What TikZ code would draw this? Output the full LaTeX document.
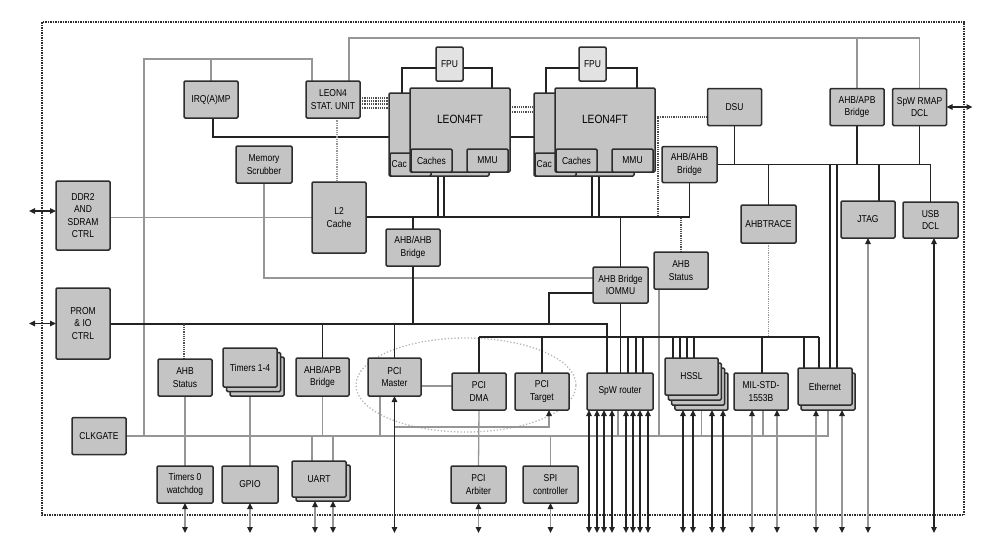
\documentclass[tikz,border=0pt]{standalone}
\usepackage{fontspec}
\newfontfamily\diagfont{Liberation Sans}[FakeStretch=0.85]
\usetikzlibrary{arrows.meta,calc}
\definecolor{BoxGray}{RGB}{196,196,196}
\definecolor{FpuGray}{RGB}{226,226,226}
\definecolor{EdgeGray}{RGB}{45,45,45}
\definecolor{WireGray}{RGB}{150,150,150}
\definecolor{WireBlack}{RGB}{35,35,35}
\pgfdeclarelayer{bg}
\pgfsetlayers{bg,main}
\tikzset{
  blk/.style={draw=EdgeGray, fill=BoxGray, line width=1.5pt, rounded corners=1.2pt,
              inner sep=0pt, outer sep=0pt, align=center,
              font=\diagfont\fontsize{10}{12.5}\selectfont},
  std/.style={blk, minimum width=54pt, minimum height=37pt},
  wire/.style={draw=WireBlack, line width=1.3pt},
  gwire/.style={draw=WireGray, line width=1.3pt},
  bus/.style={draw=WireBlack, line width=2pt},
  dotw/.style={draw=WireBlack!80, line width=1.2pt, densely dotted},
  gdot/.style={draw=WireGray, line width=1.3pt, densely dotted},
  io/.style={{Triangle[length=6pt,width=5.5pt,color=WireBlack]}-{Triangle[length=6pt,width=5.5pt,color=WireBlack]}, line width=1.3pt},
  gio/.style={io, draw=WireGray},
  bio/.style={io, draw=WireBlack},
}
\begin{document}
\begin{tikzpicture}[x=1pt,y=-1pt]
\useasboundingbox (0,0) rectangle (994,558);

% top row
\node[std] (irq) at (211,99.5) {IRQ(A)MP};
\node[std] (stat) at (333,99.5) {LEON4\\STAT. UNIT};
\node[std] (dsu) at (734.5,107) {DSU};
\node[std] (apbtop) at (857,107) {AHB/APB\\Bridge};
\node[std] (rmap) at (919.5,107) {SpW RMAP\\DCL};

% processors
\node[blk, minimum width=100pt, minimum height=83pt] (cpu1b) at (439,134.5) {};
\node[blk, minimum width=41pt, minimum height=23pt] (cch1b) at (410.5,164.5) {};
\node[font=\diagfont\fontsize{10}{12}\selectfont, anchor=west, inner sep=0pt] (cch1bt) at (391.5,164.5) {Cac};
\node[blk, minimum width=100pt, minimum height=84pt] (cpu1) at (460,130) {};
\node[font=\diagfont\fontsize{12}{14}\selectfont] (cpu1t) at (460,119) {LEON4FT};
\node[blk, minimum width=41pt, minimum height=23pt] (cch1) at (431.5,160.5) {Caches};
\node[blk, minimum width=41pt, minimum height=23pt] (mmu1) at (487.5,160.5) {MMU};
\node[blk, fill=FpuGray, minimum width=27pt, minimum height=34pt] (fpu1) at (449.5,64) {FPU};

\node[blk, minimum width=100pt, minimum height=83pt] (cpu2b) at (584,134.5) {};
\node[blk, minimum width=41pt, minimum height=23pt] (cch2b) at (555.5,164.5) {};
\node[font=\diagfont\fontsize{10}{12}\selectfont, anchor=west, inner sep=0pt] (cch2bt) at (536.5,164.5) {Cac};
\node[blk, minimum width=100pt, minimum height=84pt] (cpu2) at (605,130) {};
\node[font=\diagfont\fontsize{12}{14}\selectfont] (cpu2t) at (605,119) {LEON4FT};
\node[blk, minimum width=41pt, minimum height=23pt] (cch2) at (576.5,160.5) {Caches};
\node[blk, minimum width=41pt, minimum height=23pt] (mmu2) at (632.5,160.5) {MMU};
\node[blk, fill=FpuGray, minimum width=27pt, minimum height=34pt] (fpu2) at (592.5,64) {FPU};

% memory side
\node[blk, minimum width=54pt, minimum height=69pt] (ddr) at (83,215.5) {DDR2\\AND\\SDRAM\\CTRL};
\node[blk, minimum width=54pt, minimum height=71pt] (prom) at (83,323.5) {PROM\\\& IO\\CTRL};
\node[blk, minimum width=56pt, minimum height=37pt] (scrub) at (264,164.5) {Memory\\Scrubber};
\node[blk, minimum width=54pt, minimum height=71pt] (l2) at (339,217.5) {L2\\Cache};
\node[std] (ahbm) at (413,247.5) {AHB/AHB\\Bridge};
\node[blk, minimum width=55pt, minimum height=36pt] (ahbr) at (689.5,164.5) {AHB/AHB\\Bridge};
\node[blk, minimum width=55pt, minimum height=38pt] (ahbtrace) at (768.5,224) {AHBTRACE};
\node[std] (jtag) at (868,219.5) {JTAG};
\node[blk, minimum width=55pt, minimum height=36pt] (usb) at (930.5,220) {USB\\DCL};
\node[blk, minimum width=55pt, minimum height=36pt] (iommu) at (620.5,285) {AHB Bridge\\IOMMU};
\node[std] (ahbst2) at (681,270.5) {AHB\\Status};

% peripherals
\node[std] (ahbst1) at (185,377.5) {AHB\\Status};
\node[blk, minimum width=54pt, minimum height=39pt] (timersc) at (257,376.5) {};
\node[blk, minimum width=54pt, minimum height=39pt] (timersb) at (253.5,372) {};
\node[blk, minimum width=54pt, minimum height=39pt] (timers) at (250,367.5) {Timers 1-4};
\node[blk, minimum width=53pt, minimum height=38pt] (apb2) at (322.5,377) {AHB/APB\\Bridge};
\node[blk, minimum width=53pt, minimum height=38pt] (pcim) at (394.5,377) {PCI\\Master};
\node[std] (pcid) at (479,391.5) {PCI\\DMA};
\node[std] (pcit) at (542,391.5) {PCI\\Target};
\node[blk, minimum width=66pt, minimum height=37pt] (spwr) at (620,391.5) {SpW router};
\node[blk, minimum width=53pt, minimum height=37pt] (hssld) at (701.4,391.5) {};
\node[blk, minimum width=53pt, minimum height=37pt] (hsslc) at (698.1,386.5) {};
\node[blk, minimum width=53pt, minimum height=37pt] (hsslb) at (694.8,381.5) {};
\node[blk, minimum width=53pt, minimum height=37pt] (hssl) at (691.5,376.5) {HSSL};
\node[std] (mil) at (761,391.5) {MIL-STD-\\1553B};
\node[std] (ethb) at (828,391.5) {};
\node[std] (eth) at (825,386.5) {Ethernet};
\node[std] (clk) at (99,436) {CLKGATE};
\node[blk, minimum width=56pt, minimum height=37pt] (tim0) at (185,484.5) {Timers 0\\watchdog};
\node[blk, minimum width=56pt, minimum height=37pt] (gpio) at (250,484.5) {GPIO};
\node[blk, minimum width=54pt, minimum height=36pt] (uartb) at (323,483) {};
\node[blk, minimum width=54pt, minimum height=36pt] (uart) at (319,479) {UART};
\node[blk, minimum width=55pt, minimum height=37pt] (pcia) at (478.5,484.5) {PCI\\Arbiter};
\node[blk, minimum width=55pt, minimum height=37pt] (spi) at (550.5,484.5) {SPI\\controller};

% bus levels
\coordinate (uby) at (0,164);
\coordinate (hby) at (0,217);
\coordinate (mby) at (0,323.5);
\coordinate (sby) at (0,337);
\coordinate (apby) at (0,436);

\begin{pgfonlayer}{bg}
  % chip outline
  \draw[EdgeGray, line width=1.5pt, densely dotted] (42,22) rectangle (964,515);
  \draw[WireGray!70, line width=1.3pt, dotted] (466,385) ellipse [x radius=110pt, y radius=47pt];

  % grey control lines
  \draw[gwire] ([xshift=16pt]stat.north) -- ++(0,-43) -| (rmap.north);
  \draw[gwire] (apbtop.north) -- ++(0,-50);
  \draw[gwire] ([xshift=-21pt]stat.north) -- ++(0,-22) coordinate (irqbar)
    -- (irqbar -| 144,0) |- (clk.east);
  \draw[gwire] (irq.north) -- (irq.north |- irqbar);
  \draw[gwire] (clk.east) -| ([xshift=3pt]eth.south);
  \draw[gwire] (l2.west) -- (l2.west -| ddr.east);
  \draw[gwire] (scrub.south) |- ([yshift=7pt]iommu.west);
  \draw[gwire] (ahbst1.south) -- (tim0.north);
  \draw[gwire] (timers.south) -- (gpio.north);
  \draw[gwire] (apb2.south) -- (apb2.south |- apby);
  \draw[gwire] ([xshift=-7pt]uart.north) -- ([xshift=-7pt]uart.north |- apby);
  \draw[gwire] ([xshift=14pt]uart.north) -- ([xshift=14pt]uart.north |- apby);
  \draw[gwire] ([xshift=-14.5pt]pcim.south) -- ([xshift=-14.5pt]pcim.south |- apby);
  \draw[gwire] ([yshift=-9pt]pcim.east) -- ([yshift=-9pt]pcim.east -| pcid.west);
  \draw[gwire, -{Triangle[length=6pt,width=5.5pt,color=WireBlack]}]
    (pcim.south |- 0,427) -| ([xshift=7pt]pcit.south);
  \draw[gwire] (pcid.south) -- (pcia.north);
  \draw[gwire] (spi.north) -- (spi.north |- apby);
  \draw[gwire] ([xshift=-2pt]spwr.south) -- ([xshift=-2pt]spwr.south |- apby);
  \draw[gwire] ([xshift=-22pt]ahbst2.south) -- ([xshift=-22pt]ahbst2.south |- apby);
  \draw[gwire] (hssld.south) -- (hssld.south |- apby);
  \draw[gwire] ([xshift=2pt]mil.south) -- ([xshift=2pt]mil.south |- apby);

  % processor side
  \draw[wire] ([yshift=-4pt]fpu1.west) -| ([xshift=-37pt]cpu1b.north);
  \draw[wire] ([yshift=-4pt]fpu1.east) -| ([xshift=32pt]cpu1.north);
  \draw[wire] ([yshift=-4pt]fpu2.west) -| ([xshift=-38pt]cpu2b.north);
  \draw[wire] ([yshift=-4pt]fpu2.east) -| ([xshift=32pt]cpu2.north);
  \draw[wire] ([xshift=2pt]irq.south) |- ([yshift=-2.5pt]cpu1b.west);
  \draw[wire] ([yshift=-7pt]cpu1.east) -- ([yshift=-7pt]cpu1.east -| cpu2b.west);
  \foreach \dy in {1.5,-1.5,-4.5,-8.5}
    \draw[dotw] ([yshift=\dy pt]stat.east) -- ([yshift=\dy pt]stat.east -| cpu1.west);
  \foreach \dy in {23,18}
    \draw[dotw] ([yshift=\dy pt]cpu1.east) -- ([yshift=\dy pt]cpu1.east -| cpu2b.west);
  \draw[gdot] ([xshift=4pt]stat.south) -- ([xshift=4pt]stat.south |- l2.north);
  \draw[dotw] ([yshift=-10pt]dsu.west) -| ([xshift=3pt]cpu2.east |- hby);

  % processor bus
  \draw[wire] (l2.east |- hby) -| (ahbr.south);
  \foreach \dx in {-22,-16}
    \draw[wire] ([xshift=\dx pt]cpu1.south) -- ([xshift=\dx pt]cpu1.south |- hby);
  \foreach \dx in {-13,-6}
    \draw[wire] ([xshift=\dx pt]cpu2.south) -- ([xshift=\dx pt]cpu2.south |- hby);
  \draw[wire] (ahbm.north) -- (ahbm.north |- hby);
  \draw[wire] (ahbm.south) -- (ahbm.south |- mby);
  \draw[wire] (iommu.north |- hby) -- (iommu.north);
  \draw[wire] (iommu.south) -- (iommu.south |- spwr.north);
  \draw[wire] ([yshift=-8pt]iommu.west) -| ([xshift=7pt]pcit.north |- mby);
  \draw[dotw] (ahbst2.north) -- (ahbst2.north |- hby);

  % debug bus
  \draw[wire] (ahbr.east) -| (usb.north);
  \draw[wire] (dsu.south) -- (dsu.south |- uby);
  \draw[wire] (apbtop.south) -- (apbtop.south |- uby);
  \draw[wire] (rmap.south) -- (rmap.south |- uby);
  \draw[wire] (ahbtrace.north) -- (ahbtrace.north |- uby);
  \draw[wire] ([xshift=11pt]jtag.north) -- ([xshift=11pt]jtag.north |- uby);
  \foreach \dx in {5,12}
    \draw[wire] ([xshift=\dx pt]eth.north |- uby) -- ([xshift=\dx pt]eth.north);

  % master and slave I/O buses
  \draw[bus] (prom.east) -| ([xshift=-13pt]spwr.north);
  \draw[dotw] ([xshift=-1pt]ahbst1.north) -- ([xshift=-1pt]ahbst1.north |- mby);
  \draw[wire] (apb2.north) -- (apb2.north |- mby);
  \draw[wire] (pcim.north) -- (pcim.north |- mby);
  \draw[bus] (pcid.north |- sby) -- ([xshift=-6pt]eth.north |- sby);
  \draw[wire] (pcid.north) -- (pcid.north |- sby);
  \draw[wire] (pcit.north) -- (pcit.north |- sby);
  \foreach \dx in {8,16,23}
    \draw[wire] ([xshift=\dx pt]spwr.north) -- ([xshift=\dx pt]spwr.north |- sby);
  \foreach \dx in {-18.5,-11.5,-4.5,2.5}
    \draw[wire] ([xshift=\dx pt]hssl.north) -- ([xshift=\dx pt]hssl.north |- sby);
  \draw[wire] ([xshift=1pt]mil.north) -- ([xshift=1pt]mil.north |- sby);
  \foreach \dx in {-21,-6}
    \draw[wire] ([xshift=\dx pt]eth.north) -- ([xshift=\dx pt]eth.north |- sby);
  \draw[gdot] (ahbtrace.south) -- (ahbtrace.south |- sby);

  % external pins
  \draw[bio, line width=1.6pt] ([yshift=4.5pt]ddr.west) -- ++(-27,0);
  \draw[bio, line width=1.6pt] (prom.west) -- ++(-27,0);
  \draw[bio, line width=1.6pt] (rmap.east) -- ++(26,0);
  \draw[gio] (tim0.south) -- ++(0,30);
  \draw[gio] (gpio.south) -- ++(0,30);
  \draw[gio] ([xshift=-8pt]uartb.south) -- ++(0,32);
  \draw[gio] ([xshift=10pt]uartb.south) -- ++(0,32);
  \draw[bio] (pcim.south) -- ++(0,137);
  \draw[gio] (pcia.south) -- ++(0,30);
  \draw[gio] (spi.south) -- ++(0,30);
  \foreach \dx in {-31,-23,-16,-8,6,13,20,28}
    \draw[bio] ([xshift=\dx pt]spwr.south) -- ++(0,123);
  \foreach \dx in {-18.4,-8.4,10.6,21.6}
    \draw[bio] ([xshift=\dx pt]hssld.south) -- ++(0,123);
  \foreach \dx in {-9,16}
    \draw[gio] ([xshift=\dx pt]mil.south) -- ++(0,123);
  \foreach \dx in {-12,14}
    \draw[gio] ([xshift=\dx pt]ethb.south) -- ++(0,123);
  \draw[gio] (jtag.south) -- ++(0,295);
  \draw[bio] ([xshift=3.5pt]usb.south) -- ++(0,295);
\end{pgfonlayer}
\end{tikzpicture}
\end{document}
